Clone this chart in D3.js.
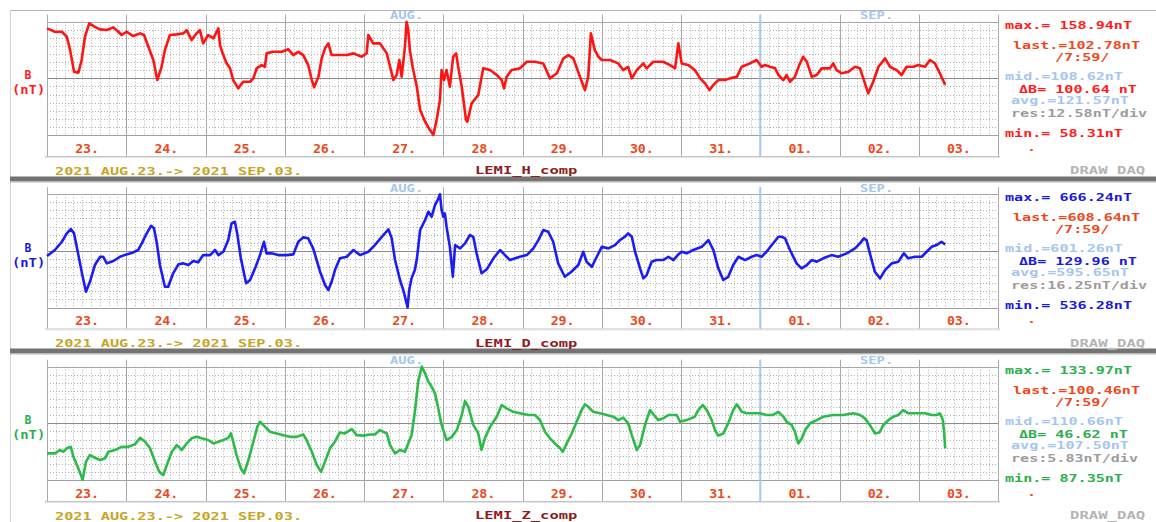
<!DOCTYPE html>
<html><head><meta charset="utf-8">
<script src="https://cdn.jsdelivr.net/npm/d3@7"></script>
<style>
body{margin:0;background:#fff;}
svg{display:block;}
text{font-family:"DejaVu Sans Mono",monospace;font-weight:bold;}
</style></head><body>
<svg id="c" width="1156" height="522"></svg>
<script>
// ---------------- data ----------------
const dayLabels = ["23.","24.","25.","26.","27.","28.","29.","30.","31.","01.","02.","03."];
const monthLabels = ["AUG.","SEP."];
const monthStartHour = 216; // Sep 01 00:00, hours since Aug 23 00:00
const periodText = "2021 AUG.23.-> 2021 SEP.03.";
const sourceText = "DRAW_DAQ";
const componentNames = ["LEMI_H_comp","LEMI_D_comp","LEMI_Z_comp"];

const hoursH = [0,2.4,4.5,6.0,7.0,8.2,9.5,10.5,11.5,12.8,14.5,16.1,18.1,20.1,21.6,22.6,24.1,26.1,28.2,29.4,30.7,32.2,33.4,34.7,35.7,37.2,39.3,41.3,42.3,43.8,45.3,46.3,47.3,48.8,50.4,51.9,52.4,53.2,54.4,55.4,56.4,57.9,59.4,61.5,62.5,63.5,65.0,66.0,66.5,68.5,71.1,73.1,74.6,76.1,77.6,79.1,80.2,80.9,82.2,83.2,84.2,85.2,86.2,87.7,90.8,92.8,95.3,96.8,97.3,98.8,100.8,102.9,103.9,104.9,105.9,106.7,107.4,108.4,108.9,109.4,109.9,110.7,112.0,113.0,114.5,116.0,117.0,118.0,119.0,119.5,120.2,121.0,122.0,123.0,123.9,124.6,125.6,126.9,127.3,128.6,130.6,132.1,134.2,136.2,137.7,138.4,139.2,140.7,143.2,145.3,147.8,150.3,152.3,154.4,156.4,157.9,159.4,161.4,162.9,163.9,164.7,165.9,167.0,168.0,170.5,173.0,174.5,176.0,177.1,178.6,180.6,181.6,183.6,186.6,188.7,190.2,191.2,192.2,194.2,196.2,197.8,199.3,200.6,201.8,203.3,205.3,206.8,208.9,210.4,212.9,214.9,216.4,217.4,218.9,220.5,221.5,223.0,224.0,225.0,226.5,227.8,229.0,230.1,231.6,233.1,234.6,237.1,238.1,239.1,240.7,242.7,244.7,246.2,247.7,248.7,250.2,251.8,253.8,255.3,257.3,258.8,260.3,262.4,263.9,265.9,267.4,268.9,270.4,272.0];
const valuesH = [153.0,150.0,150.0,145.6,133.7,114.5,113.6,124.9,145.6,157.5,154.4,152.1,151.5,153.9,150.0,147.1,150.0,146.2,148.6,147.1,136.7,124.9,107.1,118.9,133.7,147.1,147.7,148.6,151.5,142.6,148.6,151.5,139.7,147.1,144.1,153.0,138.2,130.8,121.9,117.8,107.1,99.7,105.6,105.6,108.6,117.5,120.4,118.9,130.8,132.2,132.2,134.4,129.3,132.2,129.3,120.4,107.1,100.6,110.0,126.4,135.3,139.7,129.3,129.3,129.3,130.8,127.8,130.8,147.1,139.7,139.7,130.8,118.9,107.1,111.6,124.9,110.0,136.7,158.9,151.5,133.7,118.9,101.2,80.5,70.1,62.7,58.3,71.6,89.4,116.0,107.1,116.0,101.2,127.8,130.8,117.5,101.2,71.6,70.1,86.4,93.8,117.5,116.0,111.6,107.1,99.7,110.0,116.0,117.5,123.4,123.4,121.9,108.6,113.1,126.4,129.3,126.4,110.0,98.2,110.0,148.6,133.7,127.8,124.9,124.9,121.9,116.0,118.9,108.6,116.0,121.9,117.5,123.4,123.4,120.4,117.5,139.7,121.9,120.4,116.0,108.6,104.2,98.2,102.7,107.1,107.1,108.6,110.0,118.9,121.9,124.9,118.9,120.4,118.9,117.5,111.6,107.1,111.6,105.6,110.0,120.4,127.8,123.4,110.0,111.6,117.5,117.5,121.9,116.0,113.1,114.5,118.9,117.5,104.2,95.3,105.6,118.9,126.4,118.9,116.0,111.6,118.9,118.9,120.4,118.9,124.9,121.9,113.1,102.8];

const hoursD = [0,2.4,4.5,6.0,7.2,8.2,9.5,10.7,11.8,13.0,14.5,16.1,17.0,18.1,20.1,22.1,24.1,26.1,27.6,28.7,30.2,31.5,32.4,33.2,34.2,35.7,36.7,38.2,39.8,41.3,42.8,44.3,45.8,47.3,49.4,50.9,51.9,53.4,54.9,55.9,56.9,57.6,58.7,60.3,61.5,63.0,64.5,65.7,66.5,68.0,70.0,72.6,74.6,76.1,77.6,79.1,80.6,82.7,84.2,85.2,86.2,87.2,88.7,90.8,92.8,94.8,97.3,99.3,101.4,103.4,104.4,105.4,106.9,107.9,108.9,109.2,109.7,110.4,111.4,112.1,113.0,114.5,115.5,116.5,117.5,118.3,119.0,119.5,120.0,120.5,121.0,122.0,122.9,123.6,125.1,126.6,128.1,129.1,130.1,131.6,133.2,135.2,137.2,138.7,140.2,143.2,145.3,147.3,148.8,150.3,151.8,153.3,154.8,156.8,158.8,160.9,162.4,163.4,165.0,166.5,168.0,170.0,172.0,173.5,175.0,176.0,177.1,178.1,179.6,180.6,181.6,183.1,184.6,186.6,188.2,189.7,191.0,192.2,193.7,195.7,198.3,200.3,201.8,203.3,204.8,206.3,207.8,209.4,211.4,213.4,214.9,216.4,217.9,219.5,221.5,222.5,223.5,225.0,227.0,228.5,230.1,231.6,233.1,235.1,237.6,239.6,242.2,244.7,246.2,247.4,248.2,249.2,250.7,252.3,253.8,255.8,257.8,259.5,260.8,262.9,264.9,266.4,267.9,269.4,270.9,272.0];
const valuesD = [595.3,602.2,611.7,621.3,626.3,621.3,596.4,573.5,554.4,565.8,585.0,594.5,594.5,586.9,589.6,594.5,597.2,599.5,602.2,609.9,621.3,630.0,627.1,611.7,585.0,560.1,560.1,575.5,585.8,586.9,585.0,589.6,588.1,596.4,596.4,602.2,596.4,600.2,613.6,632.8,634.6,621.3,592.7,564.0,567.8,581.2,596.4,611.7,598.4,598.4,596.4,596.4,597.2,611.7,616.7,615.6,604.1,577.3,562.0,556.3,565.8,579.2,592.7,594.5,602.2,596.4,600.2,607.9,617.4,625.9,615.6,590.7,567.8,556.3,541.0,536.3,556.3,569.7,579.2,594.5,625.1,636.6,646.1,640.4,653.8,659.5,666.2,648.1,640.4,644.3,628.9,605.9,571.6,607.9,604.1,609.9,619.4,617.4,598.4,575.5,580.2,592.7,602.2,596.4,590.7,594.5,596.4,604.1,613.6,625.1,623.2,611.7,586.9,571.5,577.3,585.0,600.2,588.8,583.0,594.5,605.9,604.1,607.9,613.6,617.4,621.3,617.4,600.2,581.2,569.7,573.5,588.8,590.7,590.7,594.5,590.7,596.4,600.2,598.4,602.2,605.9,613.6,602.2,581.2,567.8,571.5,585.0,594.5,590.7,594.5,596.4,594.5,600.2,607.9,617.4,617.4,615.6,602.2,586.9,581.2,585.0,590.7,588.8,592.7,596.4,594.5,598.4,604.1,609.9,615.6,613.6,598.4,577.3,569.7,579.2,586.9,588.8,598.4,592.7,594.5,594.5,600.2,605.9,607.9,611.7,608.6];

const hoursZ = [0,2.4,3.9,4.9,6.0,7.2,8.0,9.5,10.8,11.8,13.0,14.5,16.1,17.6,18.6,20.6,22.6,24.6,26.6,28.2,29.7,31.2,32.7,34.0,35.2,36.3,37.8,39.3,40.8,42.3,43.8,45.3,46.8,48.8,50.4,51.9,53.4,54.9,55.7,56.4,57.4,58.7,59.7,61.0,62.5,63.7,64.5,66.0,67.5,69.6,71.6,73.6,75.6,77.6,78.6,80.2,81.7,83.0,84.2,85.7,87.2,88.7,90.2,92.3,93.8,95.8,97.8,99.3,100.8,102.9,103.9,105.4,106.9,108.4,109.4,110.4,111.4,112.4,113.5,114.5,115.5,116.5,117.5,118.5,119.5,121.0,122.6,124.1,125.6,126.6,127.6,129.1,130.6,131.6,132.6,134.2,136.2,137.7,139.2,141.2,143.2,145.8,147.8,149.3,150.8,152.3,153.8,155.4,156.2,157.4,158.9,160.4,161.9,162.9,163.9,165.4,167.5,169.5,171.5,173.0,174.5,176.0,177.1,178.6,179.6,181.1,182.6,183.8,185.1,186.6,188.2,190.7,191.7,193.7,196.2,197.2,198.6,199.8,201.3,202.3,203.3,204.8,206.3,207.8,208.9,210.4,211.9,213.9,215.9,217.9,219.9,221.5,223.0,224.0,225.5,226.5,227.5,228.6,229.6,231.1,233.1,235.1,238.1,241.2,244.2,246.2,247.7,249.2,250.7,252.1,253.3,254.8,256.3,257.8,259.3,260.8,263.4,265.9,267.9,269.4,270.4,271.3,271.7,272.0];
const valuesZ = [98.3,98.3,99.7,99.0,100.4,101.0,96.9,92.1,87.4,94.9,97.6,96.5,95.6,96.3,99.0,99.7,101.0,101.0,102.0,104.7,103.1,100.4,94.9,90.7,89.4,93.5,99.0,101.7,99.7,102.4,104.5,105.1,104.5,103.8,102.4,103.1,103.8,104.7,106.5,103.1,97.6,92.1,90.1,95.6,103.1,109.3,111.3,109.3,107.2,106.5,105.8,105.1,105.1,106.1,103.8,99.0,93.5,90.7,94.9,100.4,103.1,106.9,106.5,108.3,105.8,105.6,106.1,106.1,107.9,106.5,101.7,98.3,99.7,99.0,102.4,105.8,115.4,127.8,134.0,131.2,127.8,125.7,123.0,116.8,110.0,103.8,105.1,107.9,114.1,119.8,117.5,110.0,106.5,99.7,104.5,109.3,113.4,118.2,116.8,115.4,114.8,114.1,114.1,112.0,107.2,104.5,102.4,100.4,99.0,102.4,106.5,111.3,116.1,118.5,117.5,115.4,114.8,114.1,113.4,112.0,113.0,110.7,105.8,99.7,101.7,110.0,116.1,114.1,112.0,112.7,114.1,114.1,111.3,112.0,113.4,116.1,118.2,116.1,112.0,107.9,105.6,106.5,110.7,116.1,118.5,115.4,114.8,114.8,114.8,114.1,114.1,115.4,113.4,111.3,110.0,107.2,102.4,104.5,107.9,110.7,112.0,113.4,114.1,114.1,114.8,114.1,112.7,110.0,106.5,106.9,110.0,112.0,113.4,114.1,116.1,114.8,114.8,114.8,114.1,114.1,114.8,112.0,106.5,100.5];

const rangeH = [58.31, 158.94];
const rangeD = [536.28, 666.24];
const rangeZ = [87.35, 133.97];

const statsH = ["max.= 158.94nT","last.=102.78nT","/7:59/","mid.=108.62nT","\u0394B= 100.64 nT","avg.=121.57nT","res:12.58nT/div","min.= 58.31nT"];
const statsD = ["max.= 666.24nT","last.=608.64nT","/7:59/","mid.=601.26nT","\u0394B= 129.96 nT","avg.=595.65nT","res:16.25nT/div","min.= 536.28nT"];
const statsZ = ["max.= 133.97nT","last.=100.46nT","/7:59/","mid.=110.66nT","\u0394B= 46.62 nT","avg.=107.50nT","res:5.83nT/div","min.= 87.35nT"];

// ---------------- layout / style ----------------
const W = 1156, H = 522;
const svg = d3.select("#c");
const PL = 47, PR = 998;
const totalHours = dayLabels.length * 24;
const x = d3.scaleLinear().domain([0, totalHours]).range([PL, PR]);

const panels = [
  {hours:hoursH, values:valuesH, range:rangeH, stats:statsH, name:componentNames[0], line:"#ff1414", txt:"#ff1c1c", off:0},
  {hours:hoursD, values:valuesD, range:rangeD, stats:statsD, name:componentNames[1], line:"#1c1cf4", txt:"#1a1ad8", off:172.5},
  {hours:hoursZ, values:valuesZ, range:rangeZ, stats:statsZ, name:componentNames[2], line:"#2cbb48", txt:"#2db04c", off:345}
];
const ORANGE = "#ec4a1c", LBLUE = "#a6c6ee", GRAY = "#9c9c9c";
const statRows = [
  {x:1005, cy:25, c:"series"},
  {x:1013, cy:45, c:"orange"},
  {x:1055, cy:57, c:"orange"},
  {x:1005, cy:76, c:"lblue"},
  {x:1019, cy:89, c:"series"},
  {x:1011, cy:100, c:"lblue"},
  {x:1011, cy:113, c:"gray"},
  {x:1005, cy:133, c:"series"}
];
const CW = 9.07;

function ptext(g, str, x0, cy, color, cw, size){
  return g.append("text").attr("x", x0).attr("y", cy + size*0.36)
    .attr("font-size", size).attr("fill", color)
    .attr("textLength", str.length*cw).attr("lengthAdjust","spacingAndGlyphs")
    .text(str);
}

// frame
svg.append("line").attr("x1",10).attr("x2",W).attr("y1",10.5).attr("y2",10.5).attr("stroke","#b4b4b4");
svg.append("line").attr("x1",10.5).attr("x2",10.5).attr("y1",10).attr("y2",H).attr("stroke","#d4d4d4");
[176.5, 348.5].forEach(yb=>{
  svg.append("rect").attr("x",10).attr("y",yb).attr("width",W-10).attr("height",5).attr("fill","#737373");
  svg.append("line").attr("x1",10).attr("x2",W).attr("y1",yb+5.5).attr("y2",yb+5.5).attr("stroke","#b8b8b8");
});

panels.forEach((p)=>{
  const g = svg.append("g");
  const top = 21.7 + p.off, bot = 135 + p.off, mid = (top+bot)/2;
  const y = d3.scaleLinear().domain(p.range).range([bot, top]);

  // label row bottom
  g.append("line").attr("x1",45).attr("x2",1000).attr("y1",bot+21.5).attr("y2",bot+21.5).attr("stroke","#c4c4c4");
  g.append("line").attr("x1",45).attr("x2",1000).attr("y1",bot+22.5).attr("y2",bot+22.5).attr("stroke","#e4e4e4");

  // dotted grid
  const nCols = dayLabels.length*9;
  for(let i=1;i<nCols;i++){
    if(i%9===0) continue;
    const xx = Math.round(x(i*24/9))+0.5;
    g.append("line").attr("x1",xx).attr("x2",xx).attr("y1",top).attr("y2",bot)
      .attr("stroke","#b0b0b0").attr("stroke-dasharray","1,2");
  }
  for(let j=1;j<14;j++){
    if(j===7) continue;
    const yy = Math.round(top + j*(bot-top)/14)+0.5;
    g.append("line").attr("x1",PL).attr("x2",PR).attr("y1",yy).attr("y2",yy)
      .attr("stroke","#b0b0b0").attr("stroke-dasharray","1,2");
  }
  // solid horizontals
  [[top,"#a8a8a8"],[bot,"#a0a0a0"],[mid,"#8a8a8a"]].forEach(([yy,c])=>{
    g.append("line").attr("x1",PL).attr("x2",PR).attr("y1",Math.round(yy)+0.5).attr("y2",Math.round(yy)+0.5).attr("stroke",c);
  });
  // day separators
  d3.range(dayLabels.length+1).forEach(i=>{
    const xx = Math.round(x(i*24))+0.5;
    g.append("line").attr("x1",xx).attr("x2",xx).attr("y1",top-7).attr("y2",bot+21)
      .attr("stroke","#a8a8a8");
  });
  // month boundary line
  const mx = x(monthStartHour);
  g.append("line").attr("x1",mx).attr("x2",mx).attr("y1",top-7).attr("y2",bot+21)
    .attr("stroke",LBLUE).attr("stroke-width",2);
  ptext(g, monthLabels[0], 390, top-6.5, LBLUE, 8.3, 11);
  ptext(g, monthLabels[1], 860, top-6.5, LBLUE, 8.3, 11);

  // day labels via axis
  const ax = d3.axisBottom(x).tickValues(dayLabels.map((d,i)=>i*24+12))
    .tickFormat((d,i)=>dayLabels[i]).tickSize(0).tickPadding(0);
  const ag = g.append("g").attr("transform",`translate(0,${bot+17.5})`).call(ax);
  ag.select(".domain").remove();
  ag.selectAll("text").attr("y",0).attr("dy",null)
    .attr("font-size",12).attr("font-family","DejaVu Sans Mono").attr("font-weight","bold")
    .attr("fill",ORANGE).attr("textLength",24).attr("lengthAdjust","spacingAndGlyphs");

  // trace
  const pts = p.hours.map((h,i)=>[h,p.values[i]]);
  const line = d3.line().x(d=>x(d[0])).y(d=>y(d[1]));
  g.append("path").datum(pts).attr("d",line).attr("fill","none")
    .attr("stroke",p.line).attr("stroke-width",2.6).attr("stroke-linejoin","round");

  // left axis label
  g.append("text").attr("x",28).attr("y",75+p.off+4).attr("text-anchor","middle")
    .attr("font-size",11.5).attr("fill",p.txt).text("B");
  ptext(g, "(nT)", 12, 90+p.off, p.txt, 8.3, 11.5);

  // stats
  p.stats.forEach((s,i)=>{
    const r = statRows[i];
    const col = r.c==="series"?p.txt:r.c==="orange"?ORANGE:r.c==="lblue"?LBLUE:GRAY;
    ptext(g, s, r.x, r.cy+p.off, col, CW, 11);
  });
  ptext(g, ".", 1027, 147+p.off, ORANGE, 9, 11);

  // bottom texts
  ptext(g, periodText, 55, 171+p.off, "#c6a626", 9.15, 11);
  ptext(g, p.name, 475, 170.5+p.off, "#8e1c1c", 9.3, 11);
  ptext(g, sourceText, 1070, 170.5+p.off, "#b4b4b4", 9.4, 11);
});
</script></body></html>
